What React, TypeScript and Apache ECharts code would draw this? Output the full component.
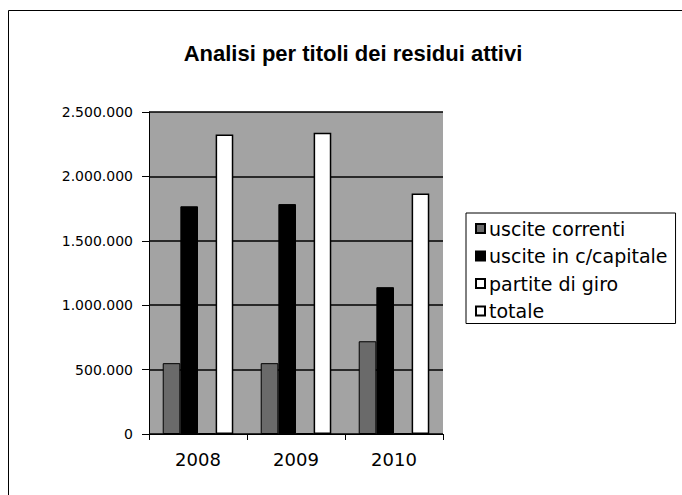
import React, { useEffect, useRef } from "react";
import * as echarts from "echarts";

const categories = ["2008", "2009", "2010"];
const usciteCorrenti = [550000, 550000, 720000];
const usciteCapitale = [1768000, 1785000, 1140000];
const partiteGiro = [6000, 6000, 6000];
const totale = [2325000, 2338000, 1868000];
const seriesNames = ["uscite correnti", "uscite in c/capitale", "partite di giro", "totale"];

const fmt = (v: number) => String(v).replace(/\B(?=(\d{3})+(?!\d))/g, ".");

export default function App() {
  const ref = useRef<HTMLDivElement>(null);
  useEffect(() => {
    if (!ref.current) return;
    const chart = echarts.init(ref.current, undefined, { renderer: "svg" });
    const labelFont = { fontFamily: "DejaVu Sans, Verdana, sans-serif", color: "#000" };
    const barBase = { type: "bar", barGap: "0%", barCategoryGap: "28%" };
    chart.setOption({
      animation: false,
      backgroundColor: "#fff",
      title: {
        text: "Analisi per titoli dei residui attivi",
        left: 348,
        textAlign: "center",
        top: 37,
        textStyle: {
          fontFamily: "Liberation Sans Narrow, Arial Narrow, Liberation Sans, Arial, sans-serif",
          fontSize: 22,
          fontWeight: "bold",
          color: "#000",
        },
      },
      graphic: [
        {
          type: "rect",
          shape: { x: 8.5, y: 10.5, width: 700, height: 500 },
          style: { fill: "none", stroke: "#000", lineWidth: 1 },
          z: 0,
        },
      ],
      legend: {
        orient: "vertical",
        left: 466,
        top: 213,
        padding: [6, 8, 3, 9],
        itemGap: 8.5,
        itemWidth: 9,
        itemHeight: 9,
        borderColor: "#000",
        borderWidth: 1,
        backgroundColor: "#fff",
        textStyle: { ...labelFont, fontSize: 19, padding: [0, 0, 0, -1] },
        data: seriesNames.map((n) => ({ name: n, icon: "rect" })),
      },
      grid: { left: 149, right: 239, top: 112, bottom: 61, backgroundColor: "#a3a3a3", show: true, borderWidth: 0 },
      xAxis: {
        type: "category",
        data: categories,
        axisLine: { lineStyle: { color: "#000", width: 1 } },
        axisTick: { show: true, length: 6, alignWithLabel: false, lineStyle: { color: "#000" } },
        axisLabel: { ...labelFont, fontSize: 18, margin: 16 },
      },
      yAxis: {
        type: "value",
        min: 0,
        max: 2500000,
        interval: 500000,
        axisLine: { show: true, lineStyle: { color: "#000", width: 1 } },
        axisTick: { show: true, length: 7, lineStyle: { color: "#000" } },
        axisLabel: { ...labelFont, fontSize: 14, margin: 16, formatter: (v: number) => fmt(v) },
        splitLine: { show: true, lineStyle: { color: "#000", width: 1.5 } },
      },
      series: [
        { ...barBase, name: seriesNames[0], data: usciteCorrenti, itemStyle: { color: "#6a6a6a", borderColor: "#000", borderWidth: 1 } },
        { ...barBase, name: seriesNames[1], data: usciteCapitale, itemStyle: { color: "#000", borderColor: "#000", borderWidth: 1 } },
        { ...barBase, name: seriesNames[2], data: partiteGiro, itemStyle: { color: "#fff", borderColor: "#000", borderWidth: 1 } },
        { ...barBase, name: seriesNames[3], data: totale, itemStyle: { color: "#fff", borderColor: "#000", borderWidth: 1.5 } },
      ],
    });
    return () => chart.dispose();
  }, []);
  return <div ref={ref} style={{ width: 682, height: 495, position: "absolute", left: 0, top: 0 }} />;
}
